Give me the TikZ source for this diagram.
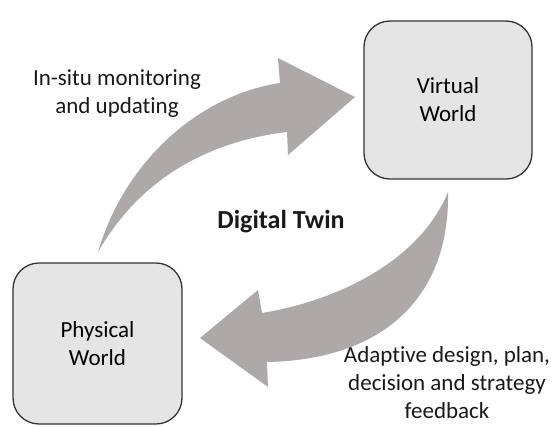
\documentclass[tikz,border=0pt]{standalone}
\usepackage{fontspec}
\setmainfont[Ligatures={NoCommon}]{Carlito}
\begin{document}
\begin{tikzpicture}[x=1pt,y=-1pt,
  world/.style={draw=black!80, line width=1.3pt, fill=black!10, rounded corners=26pt, align=center, inner sep=0pt},
  lbl/.style={align=center, inner sep=0pt, text=black!90},
  arr/.style={fill=arrgray, draw=none},
  txt/.style={font=\fontsize{23}{28}\selectfont}]
\definecolor{arrgray}{RGB}{172,169,168}
\useasboundingbox (0,0) rectangle (559,426);
% boxes
\node[world, txt, minimum width=168pt, minimum height=158pt] (virtual) at (448,100) {Virtual\\World};
\node[world, txt, minimum width=169pt, minimum height=161pt] (physical) at (97.5,343.5) {Physical\\World};
% arrows
\fill[arr] (98,252) .. controls (125,160) and (200,95) .. (280,83)
  -- (278,58) -- (355,97) -- (288,155) -- (287,132)
  .. controls (220,140) and (145,170) .. (98,252) -- cycle;
\fill[arr] (448,192) .. controls (450,300) and (380,360) .. (267,362)
  -- (268,387) -- (200,338) -- (258,290) -- (262,313)
  .. controls (340,300) and (420,260) .. (448,192) -- cycle;
% labels
\node[lbl, txt] (insitu) at (117,94) {In-situ monitoring\\and updating};
\node[lbl, font=\fontsize{26}{31}\selectfont\bfseries] (dt) at (281,222) {Digital Twin};
\node[lbl, txt] (adapt) at (447,383) {Adaptive design, plan,\\decision and strategy\\feedback};
\end{tikzpicture}
\end{document}
